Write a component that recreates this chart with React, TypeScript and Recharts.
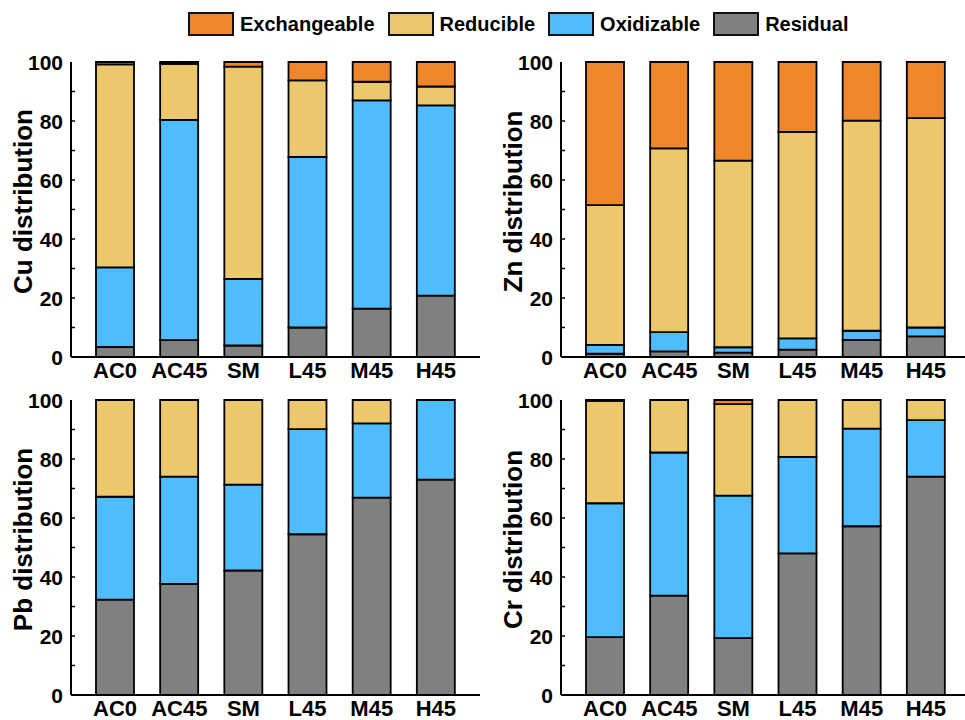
import React from 'react';
import { BarChart, Bar, XAxis, YAxis } from 'recharts';

const categories = ['AC0', 'AC45', 'SM', 'L45', 'M45', 'H45'];
const yTicks = [0, 10, 20, 30, 40, 50, 60, 70, 80, 90, 100];

const seriesNames = ['Exchangeable', 'Reducible', 'Oxidizable', 'Residual'];
const seriesColors = ['#F0862B', '#EDC76B', '#4FBCFD', '#808080'];

// Cu
const cuResidual = [3.4, 5.7, 3.9, 10.0, 16.4, 20.8];
const cuOxidizable = [27.0, 74.7, 22.6, 57.8, 70.6, 64.5];
const cuReducible = [68.8, 19.0, 71.9, 26.0, 6.3, 6.4];
const cuExchangeable = [0.8, 0.6, 1.6, 6.2, 6.7, 8.3];

// Zn
const znResidual = [1.1, 1.9, 1.5, 2.5, 5.8, 7.0];
const znOxidizable = [3.0, 6.5, 1.8, 3.8, 3.1, 3.0];
const znReducible = [47.4, 62.3, 63.3, 70.0, 71.2, 71.0];
const znExchangeable = [48.5, 29.3, 33.4, 23.7, 19.9, 19.0];

// Pb
const pbResidual = [32.3, 37.7, 42.2, 54.5, 66.9, 73.0];
const pbOxidizable = [34.9, 36.3, 29.1, 35.6, 25.2, 27.0];
const pbReducible = [32.8, 26.0, 28.7, 9.9, 7.9, 0];
const pbExchangeable = [0, 0, 0, 0, 0, 0];

// Cr
const crResidual = [19.6, 33.7, 19.3, 48.0, 57.2, 74.0];
const crOxidizable = [45.4, 48.5, 48.3, 32.7, 33.1, 19.2];
const crReducible = [34.7, 17.8, 31.0, 19.3, 9.7, 6.8];
const crExchangeable = [0.3, 0, 1.4, 0, 0, 0];

const buildRows = (res: number[], oxi: number[], red: number[], exc: number[]) =>
  categories.map((name, i) => ({
    name,
    Residual: res[i],
    Oxidizable: oxi[i],
    Reducible: red[i],
    Exchangeable: exc[i],
  }));

const FONT = '"Liberation Sans", Arial, Helvetica, sans-serif';

const YTick = (props: any) => {
  const { x, y, payload } = props;
  const ax = x + 8;
  const v = payload.value;
  const major = v % 20 === 0;
  return (
    <g>
      {v !== 0 && v !== 100 && (
        <line x1={ax} x2={ax + 4} y1={y} y2={y} stroke="#000" strokeWidth={1.5} />
      )}
      {major && (
        <text
          x={x}
          y={y}
          dy="0.36em"
          textAnchor="end"
          fontFamily={FONT}
          fontWeight="bold"
          fontSize={21}
          fill="#000"
        >
          {v}
        </text>
      )}
    </g>
  );
};

const YLabel = (props: any) => {
  const { viewBox, value } = props;
  const cx = viewBox.x + 23;
  const cy = viewBox.y + viewBox.height / 2 - 8;
  return (
    <text
      x={cx}
      y={cy}
      transform={`rotate(-90 ${cx} ${cy})`}
      textAnchor="middle"
      dominantBaseline="central"
      fontFamily={FONT}
      fontWeight="bold"
      fontSize={26}
      fill="#000"
    >
      {value}
    </text>
  );
};

const stackOrder = ['Residual', 'Oxidizable', 'Reducible', 'Exchangeable'];
const colorOf = (k: string) => seriesColors[seriesNames.indexOf(k)];

const Panel = ({ data, label, left, top }: { data: any[]; label: string; left: number; top: number }) => (
  <div style={{ position: 'absolute', left, top }}>
    <BarChart
      width={490}
      height={350}
      data={data}
      margin={{ top: 22, right: 10, bottom: 0, left: 0 }}
      barSize={38}
    >
      <XAxis
        dataKey="name"
        height={33}
        padding={{ left: 12, right: 12 }}
        tickLine={false}
        tickSize={0}
        tickMargin={5}
        axisLine={{ stroke: '#000', strokeWidth: 2 }}
        tick={{ fill: '#000', fontFamily: FONT, fontWeight: 'bold', fontSize: 22 }}
        interval={0}
      />
      <XAxis
        xAxisId="top"
        orientation="top"
        dataKey="name"
        height={0}
        tick={false}
        tickLine={false}
        axisLine={{ stroke: '#000', strokeWidth: 2 }}
      />
      <YAxis
        width={71}
        domain={[0, 100]}
        ticks={yTicks}
        interval={0}
        tickLine={false}
        tickSize={4}
        tickMargin={4}
        tick={<YTick />}
        axisLine={{ stroke: '#000', strokeWidth: 2 }}
        label={{ value: label, content: <YLabel value={label} /> }}
      />
      <YAxis
        yAxisId="right"
        orientation="right"
        width={0}
        domain={[0, 100]}
        tick={false}
        tickLine={false}
        axisLine={{ stroke: '#000', strokeWidth: 2 }}
      />
      {stackOrder.map((k) => (
        <Bar
          key={k}
          dataKey={k}
          stackId="a"
          fill={colorOf(k)}
          stroke="#000"
          strokeWidth={1.8}
          isAnimationActive={false}
        />
      ))}
    </BarChart>
  </div>
);

const Legend = () => (
  <div
    style={{
      position: 'absolute',
      left: 188,
      top: 12,
      display: 'flex',
      alignItems: 'center',
      fontFamily: FONT,
      fontWeight: 'bold',
      fontSize: 20,
      color: '#000',
      whiteSpace: 'nowrap',
    }}
  >
    {seriesNames.map((n, i) => (
      <div key={n} style={{ display: 'flex', alignItems: 'center', marginRight: 13 }}>
        <div
          style={{
            width: 42,
            height: 20,
            background: seriesColors[i],
            border: '2px solid #111',
            marginRight: 6,
          }}
        />
        <span>{n}</span>
      </div>
    ))}
  </div>
);

export default function App() {
  return (
    <div
      style={{
        position: 'absolute',
        left: 0,
        top: 0,
        width: 965,
        height: 720,
        overflow: 'hidden',
        background: '#fff',
      }}
    >
      <Legend />
      <Panel data={buildRows(cuResidual, cuOxidizable, cuReducible, cuExchangeable)} label="Cu distribution" left={0} top={40} />
      <Panel data={buildRows(znResidual, znOxidizable, znReducible, znExchangeable)} label="Zn distribution" left={490} top={40} />
      <Panel data={buildRows(pbResidual, pbOxidizable, pbReducible, pbExchangeable)} label="Pb distribution" left={0} top={378} />
      <Panel data={buildRows(crResidual, crOxidizable, crReducible, crExchangeable)} label="Cr distribution" left={490} top={378} />
    </div>
  );
}
